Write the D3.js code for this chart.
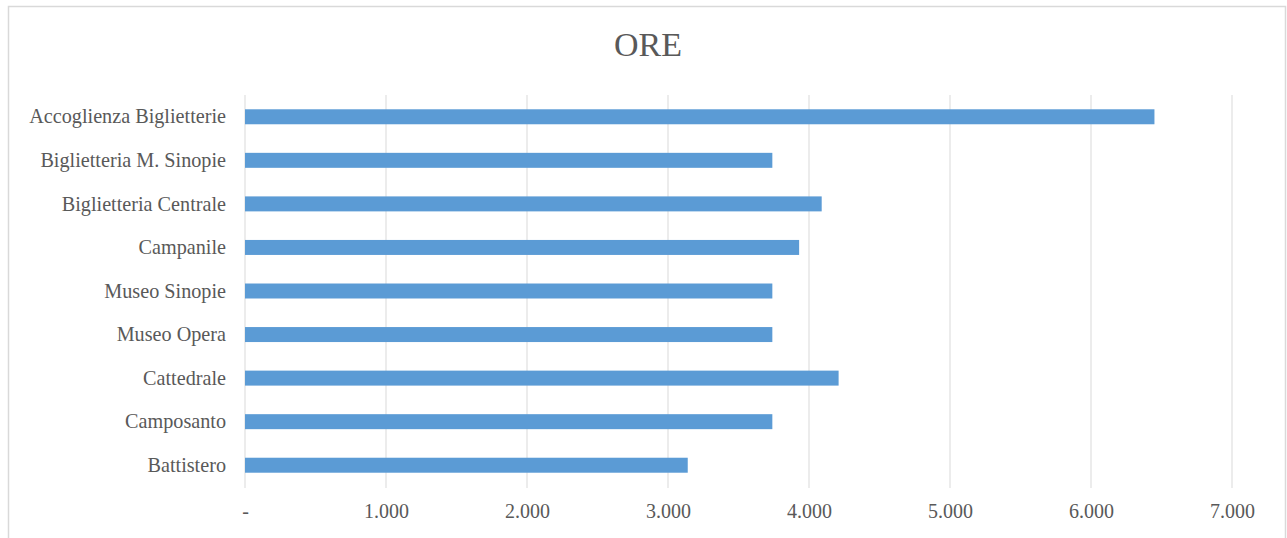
<!DOCTYPE html>
<html>
<head>
<meta charset="utf-8">
<script src="https://cdn.jsdelivr.net/npm/d3@7"></script>
<style>
  html, body { margin: 0; padding: 0; background: #fff; }
  svg { display: block; }
</style>
</head>
<body>
<svg id="chart" width="1287" height="538"></svg>
<script>
const categories = [
  "Accoglienza Biglietterie",
  "Biglietteria M. Sinopie",
  "Biglietteria Centrale",
  "Campanile",
  "Museo Sinopie",
  "Museo Opera",
  "Cattedrale",
  "Camposanto",
  "Battistero"
];
const values = [6450, 3740, 4090, 3930, 3740, 3740, 4210, 3740, 3140];
const tickValues = [0, 1000, 2000, 3000, 4000, 5000, 6000, 7000];
const tickLabels = ["-", "1.000", "2.000", "3.000", "4.000", "5.000", "6.000", "7.000"];
const title = "ORE";

const W = 1287, H = 538;
const svg = d3.select("#chart");
const font = "'Liberation Serif', 'Times New Roman', serif";

// chart frame
svg.append("rect")
  .attr("x", 8.5).attr("y", 6.5)
  .attr("width", 1277).attr("height", 540)
  .attr("fill", "#fff").attr("stroke", "#d9d9d9").attr("stroke-width", 1.5);

const x = d3.scaleLinear().domain([0, 7000]).range([245, 1232]);
const y = d3.scaleBand().domain(categories).range([95, 487]).paddingInner(0.656).paddingOuter(0.328);

// gridlines
svg.append("g").selectAll("line").data(tickValues).join("line")
  .attr("x1", d => x(d)).attr("x2", d => x(d))
  .attr("y1", 95).attr("y2", 488)
  .attr("stroke", "#d9d9d9").attr("stroke-width", 1);

// bars
svg.append("g").selectAll("rect").data(values).join("rect")
  .attr("x", x(0))
  .attr("y", (d, i) => y(categories[i]))
  .attr("width", d => x(d) - x(0))
  .attr("height", y.bandwidth())
  .attr("fill", "#5b9bd5");

// y labels
const yAxis = d3.axisLeft(y).tickSize(0).tickPadding(0);
const gy = svg.append("g").attr("transform", `translate(226,0)`).call(yAxis);
gy.select(".domain").remove();
gy.selectAll("text")
  .attr("font-family", font).attr("font-size", 20.2).attr("fill", "#595959")
  .attr("dy", "0.33em");

// x labels
const xAxis = d3.axisBottom(x).tickValues(tickValues).tickSize(0).tickPadding(0)
  .tickFormat((d, i) => tickLabels[i]);
const gx = svg.append("g").attr("transform", `translate(0,504)`).call(xAxis);
gx.select(".domain").remove();
gx.selectAll("text")
  .attr("font-family", font).attr("font-size", 20).attr("fill", "#595959");

// title
svg.append("text")
  .attr("x", 648).attr("y", 56)
  .attr("text-anchor", "middle")
  .attr("font-family", font).attr("font-size", 34)
  .attr("fill", "#595959")
  .text(title);
</script>
</body>
</html>
